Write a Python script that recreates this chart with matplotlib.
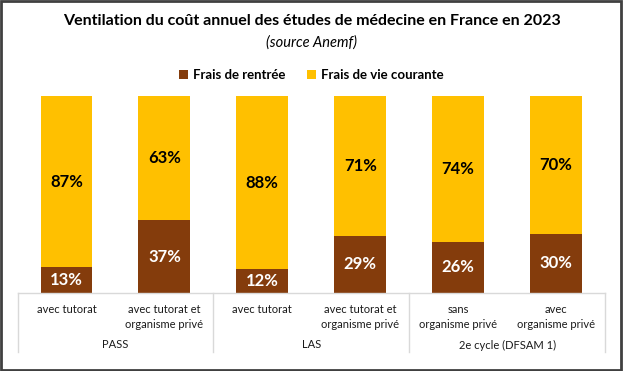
import matplotlib
matplotlib.use("Agg")
import matplotlib.pyplot as plt
from matplotlib.patches import Rectangle
from matplotlib.lines import Line2D

plt.rcParams['font.family'] = ['Lato', 'DejaVu Sans']

# data
sub_labels = ["avec tutorat", "avec tutorat et\norganisme privé",
              "avec tutorat", "avec tutorat et\norganisme privé",
              "sans\norganisme privé", "avec\norganisme privé"]
groups = ["PASS", "LAS", "2e cycle (DFSAM 1)"]
frais_rentree = [13, 37, 12, 29, 26, 30]
frais_vie = [87, 63, 88, 71, 74, 70]

brown = "#843C0C"
yellow = "#FFC000"

W, H = 623, 371
fig = plt.figure(figsize=(W / 100, H / 100), dpi=100)

x0, x1 = 17.5, 605
ytop, ybot = 96, 293
ax = fig.add_axes([x0 / W, 1 - ybot / H, (x1 - x0) / W, (ybot - ytop) / H])

x = list(range(len(sub_labels)))
ax.bar(x, frais_rentree, width=0.53, color=brown, label="Frais de rentrée")
ax.bar(x, frais_vie, width=0.53, bottom=frais_rentree, color=yellow,
       label="Frais de vie courante")

for i in x:
    ax.text(i, frais_rentree[i] / 2, f"{frais_rentree[i]}%", ha='center', va='center',
            color='white', fontsize=12, fontweight='bold')
    ax.text(i, frais_rentree[i] + frais_vie[i] / 2, f"{frais_vie[i]}%", ha='center',
            va='center', color='black', fontsize=12, fontweight='bold')

ax.set_xlim(-0.5, len(x) - 0.5)
ax.set_ylim(0, 100)
ax.axis('off')

# category axis with two levels
gray = "#D9D9D9"
fig.add_artist(Line2D([x0 / W, x1 / W], [1 - ybot / H] * 2, color=gray, lw=1))
for k in range(len(groups) + 1):
    xx = x0 + k * (x1 - x0) / len(groups)
    fig.add_artist(Line2D([xx / W] * 2, [1 - ybot / H, 1 - 352 / H], color=gray, lw=1))

slot = (x1 - x0) / len(sub_labels)
for i, lab in enumerate(sub_labels):
    fig.text((x0 + slot * (i + 0.5)) / W, 1 - 304 / H, lab, ha='center', va='top',
             fontsize=8, color='#1a1a1a', linespacing=1.45)
gslot = (x1 - x0) / len(groups)
for j, g in enumerate(groups):
    fig.text((x0 + gslot * (j + 0.5)) / W, 1 - 345 / H, g, ha='center', va='center',
             fontsize=8, color='#1a1a1a')

fig.text(0.5, 1 - 21 / H, "Ventilation du coût annuel des études de médecine en France en 2023",
         ha='center', va='center', fontsize=11.5, fontweight='bold', color='black')
fig.text(0.5, 1 - 43 / H, "(source Anemf)", ha='center', va='center', fontsize=10.5,
         style='italic', color='black')

fig.legend(loc='center', bbox_to_anchor=(0.5, 1 - 75 / H), ncol=2, frameon=False,
           prop={'size': 9.5, 'weight': 'bold'}, handlelength=0.7, handleheight=0.7,
           handletextpad=0.4, columnspacing=1.6)

fig.add_artist(Rectangle((0.002, 0.003), 0.995, 0.993, transform=fig.transFigure,
                         fill=False, edgecolor='#404040', lw=2))

fig.savefig("out.png", dpi=100)
